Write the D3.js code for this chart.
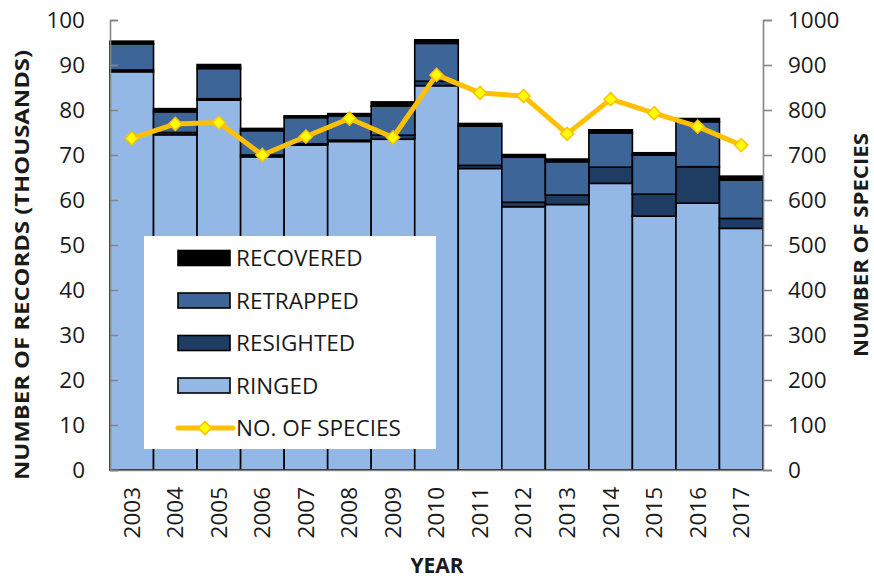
<!DOCTYPE html>
<html>
<head>
<meta charset="utf-8">
<script src="https://cdn.jsdelivr.net/npm/d3@7"></script>
<style>
  body { margin: 0; background: #fff; }
  svg { font-family: 'Open Sans', sans-serif; }
</style>
</head>
<body>
<div id="container"></div>
<script>
const years = ['2003', '2004', '2005', '2006', '2007', '2008', '2009', '2010', '2011', '2012', '2013', '2014', '2015', '2016', '2017'];
const ringed = [88.5, 74.5, 82.2, 69.6, 72.2, 73.0, 73.5, 85.4, 67.0, 58.5, 59.0, 63.7, 56.4, 59.3, 53.7];
const resighted = [0.4, 0.5, 0.3, 0.4, 0.3, 0.3, 0.9, 1.0, 0.7, 1.0, 2.1, 3.6, 4.9, 8.1, 2.2];
const retrapped = [5.8, 4.6, 6.7, 5.4, 5.8, 5.4, 6.5, 8.4, 8.7, 10.0, 7.4, 7.6, 8.7, 10.0, 8.5];
const recovered = [0.6, 0.7, 0.9, 0.5, 0.4, 0.5, 0.9, 0.8, 0.6, 0.6, 0.6, 0.7, 0.5, 0.7, 0.9];
const species = [737, 769, 772, 700, 741, 781, 739, 878, 838, 831, 747, 824, 793, 763, 722];

const svgWidth = 874;
const svgHeight = 579;
const margin = { top: 20, right: 111, bottom: 109, left: 110 };
const axisColor = '#868686';
const textColor = '#1a1a1a';
const tickFont = '22.5px';

const series = [
  { key: 'ringed', name: 'RINGED', color: '#94b8e5' },
  { key: 'resighted', name: 'RESIGHTED', color: '#1f3c62' },
  { key: 'retrapped', name: 'RETRAPPED', color: '#3e6598' },
  { key: 'recovered', name: 'RECOVERED', color: '#000000' }
];

const table = years.map((y, i) => ({
  year: y,
  ringed: ringed[i],
  resighted: resighted[i],
  retrapped: retrapped[i],
  recovered: recovered[i],
  species: species[i]
}));

const svg = d3
  .select('#container')
  .append('svg')
  .attr('width', svgWidth)
  .attr('height', svgHeight);

const x = d3
  .scaleBand()
  .domain(years)
  .range([margin.left, svgWidth - margin.right])
  .padding(0);

const y = d3
  .scaleLinear()
  .domain([0, 100])
  .range([svgHeight - margin.bottom, margin.top]);

const y2 = d3
  .scaleLinear()
  .domain([0, 1000])
  .range([svgHeight - margin.bottom, margin.top]);

const stack = d3.stack().keys(series.map(s => s.key));
const layers = stack(table);

// Bars
svg
  .selectAll('g.layer')
  .data(layers)
  .enter()
  .append('g')
  .attr('class', 'layer')
  .attr('fill', (d, i) => series[i].color)
  .selectAll('rect')
  .data(d => d)
  .enter()
  .append('rect')
  .attr('x', d => x(d.data.year))
  .attr('y', d => y(d[1]))
  .attr('width', x.bandwidth())
  .attr('height', d => y(d[0]) - y(d[1]))
  .attr('stroke', '#000')
  .attr('stroke-width', 1.6);

// Axes
const leftAxis = svg
  .append('g')
  .attr('transform', `translate(${margin.left},0)`)
  .call(d3.axisLeft(y).tickValues(d3.range(0, 101, 10)).tickSize(-8).tickPadding(25));

const rightAxis = svg
  .append('g')
  .attr('transform', `translate(${svgWidth - margin.right},0)`)
  .call(
    d3.axisRight(y2)
      .tickValues(d3.range(0, 1001, 100))
      .tickFormat(d3.format('d'))
      .tickSize(9)
      .tickPadding(16)
  );

[leftAxis, rightAxis].forEach(g => {
  g.select('.domain').attr('stroke', axisColor).attr('stroke-width', 1.6);
  g.selectAll('.tick line').attr('stroke', axisColor).attr('stroke-width', 1.6);
  g.selectAll('.tick text')
    .attr('fill', textColor)
    .style('font-size', tickFont)
    .style('font-family', "'Open Sans', sans-serif");
});

const bottomAxis = svg
  .append('g')
  .attr('transform', `translate(0,${svgHeight - margin.bottom})`)
  .call(d3.axisBottom(x).tickSize(0).tickPadding(0));

bottomAxis.select('.domain').attr('stroke', axisColor).attr('stroke-width', 1.6);
bottomAxis
  .selectAll('.tick text')
  .attr('fill', textColor)
  .style('font-size', tickFont)
  .style('font-family', "'Open Sans', sans-serif")
  .attr('text-anchor', 'end')
  .attr('transform', 'rotate(-90)')
  .attr('x', -17)
  .attr('y', 0)
  .attr('dy', '0.35em');

// Axis titles
svg
  .append('text')
  .attr('transform', 'translate(29,265) rotate(-90)')
  .attr('text-anchor', 'middle')
  .attr('font-weight', 'bold')
  .attr('font-size', 20)
  .attr('fill', textColor)
  .attr('textLength', 430)
  .attr('lengthAdjust', 'spacingAndGlyphs')
  .text('NUMBER OF RECORDS (THOUSANDS)');

svg
  .append('text')
  .attr('transform', 'translate(868,245) rotate(-90)')
  .attr('text-anchor', 'middle')
  .attr('font-weight', 'bold')
  .attr('font-size', 20)
  .attr('fill', textColor)
  .attr('textLength', 224)
  .attr('lengthAdjust', 'spacingAndGlyphs')
  .text('NUMBER OF SPECIES');

svg
  .append('text')
  .attr('x', 437)
  .attr('y', 573)
  .attr('text-anchor', 'middle')
  .attr('font-weight', 'bold')
  .attr('font-size', 21)
  .attr('fill', textColor)
  .text('YEAR');

// Legend
const legend = svg.append('g').attr('id', 'legend');

legend
  .append('rect')
  .attr('x', 144)
  .attr('y', 236)
  .attr('width', 292)
  .attr('height', 213)
  .attr('fill', '#fff');

const legendItems = [
  { name: 'RECOVERED', color: '#000000' },
  { name: 'RETRAPPED', color: '#3e6598' },
  { name: 'RESIGHTED', color: '#1f3c62' },
  { name: 'RINGED', color: '#94b8e5' }
];

const rowY = i => 258 + i * 42.5;

legend
  .selectAll('rect.swatch')
  .data(legendItems)
  .enter()
  .append('rect')
  .attr('class', 'swatch')
  .attr('x', 178)
  .attr('y', (d, i) => rowY(i) - 7.5)
  .attr('width', 52)
  .attr('height', 15)
  .attr('fill', d => d.color)
  .attr('stroke', '#000')
  .attr('stroke-width', 1.6);

legend
  .selectAll('text.label')
  .data(legendItems.concat([{ name: 'NO. OF SPECIES' }]))
  .enter()
  .append('text')
  .attr('class', 'label')
  .attr('x', 236)
  .attr('y', (d, i) => rowY(i))
  .attr('dy', '0.36em')
  .attr('font-size', 22.5)
  .attr('fill', textColor)
  .text(d => d.name);

const diamond = d3.symbol().type(d3.symbolDiamond2).size(110);

legend
  .append('line')
  .attr('x1', 178)
  .attr('x2', 233)
  .attr('y1', rowY(4))
  .attr('y2', rowY(4))
  .attr('stroke', '#ffc000')
  .attr('stroke-width', 5)
  .attr('stroke-linecap', 'round');

legend
  .append('path')
  .attr('d', diamond)
  .attr('transform', `translate(205,${rowY(4)})`)
  .attr('fill', '#ffff00')
  .attr('stroke', '#ffc000')
  .attr('stroke-width', 1.5);

// Species line
const cx = d => x(d.year) + x.bandwidth() / 2;

svg
  .append('path')
  .datum(table)
  .attr('fill', 'none')
  .attr('stroke', '#ffc000')
  .attr('stroke-width', 5)
  .attr('stroke-linejoin', 'round')
  .attr('d', d3.line().x(cx).y(d => y2(d.species)));

svg
  .selectAll('path.marker')
  .data(table)
  .enter()
  .append('path')
  .attr('class', 'marker')
  .attr('d', diamond)
  .attr('transform', d => `translate(${cx(d)},${y2(d.species)})`)
  .attr('fill', '#ffff00')
  .attr('stroke', '#ffc000')
  .attr('stroke-width', 1.5);
</script>
</body>
</html>
